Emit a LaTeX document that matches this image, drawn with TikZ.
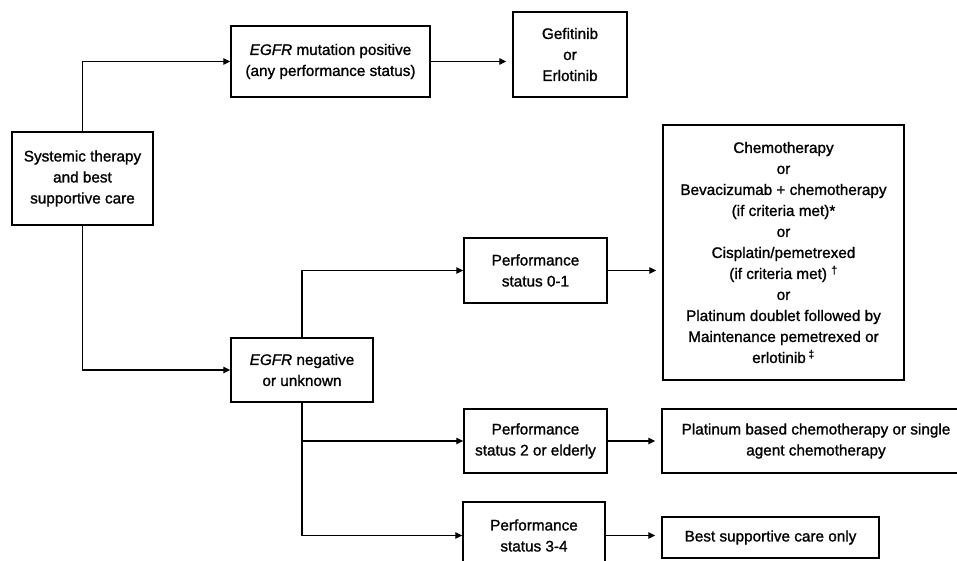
\documentclass[tikz,border=0pt]{standalone}
\usepackage{fontspec}
\setmainfont[FakeBold=1.2]{Liberation Sans}
\usetikzlibrary{arrows.meta}
\begin{document}
\begin{tikzpicture}[x=1pt,y=-1pt,
  box/.style={draw, line width=1.5pt, inner sep=0pt, align=center,
    font=\fontsize{15.3}{21}\selectfont},
  conn/.style={line width=1.2pt, -{Triangle[length=7pt,width=6.5pt]}},
  gap/.style={shorten >=6pt}]
\useasboundingbox (0,0) rectangle (957,561);
\clip (0,0) rectangle (957,561);
\fill[white] (0,0) rectangle (957,561);
% boxes
\node[box, minimum width=141pt, minimum height=93pt] (sys) at (82.5,178.5)
  {Systemic therapy\\and best\\supportive care};
\node[box, minimum width=199pt, minimum height=71pt] (pos) at (330.5,61.5)
  {\textit{EGFR} mutation positive\\(any performance status)};
\node[box, minimum width=114pt, minimum height=85pt] (gef) at (570,54.5)
  {Gefitinib\\or\\Erlotinib};
\node[box, minimum width=142pt, minimum height=64pt] (neg) at (302,370)
  {\textit{EGFR} negative\\or unknown};
\node[box, minimum width=143pt, minimum height=65pt] (ps01) at (535.5,270.5)
  {Performance\\status 0-1};
\node[box, minimum width=143pt, minimum height=64pt] (ps2) at (535.5,441)
  {Performance\\status 2 or elderly};
\node[box, minimum width=142pt, minimum height=67pt] (ps34) at (534,535.5)
  {Performance\\status 3-4};
\node[box, minimum width=241pt, minimum height=255pt] (chemo) at (783.5,252.5)
  {Chemotherapy\\or\\Bevacizumab + chemotherapy\\(if criteria met)*\\or\\Cisplatin/pemetrexed\\(if criteria met) \textsuperscript{†}\\or\\Platinum doublet followed by\\Maintenance pemetrexed or\\erlotinib\,\textsuperscript{‡}};
\node[box, minimum width=308pt, minimum height=64pt] (plat) at (816,441)
  {Platinum based chemotherapy or single\\agent chemotherapy};
\node[box, minimum width=217pt, minimum height=41pt] (bsc) at (770.5,537.5)
  {Best supportive care only};
% connectors
\draw[conn] (sys.north) |- (pos.west);
\draw[conn] (sys.south) |- (neg.west);
\draw[conn, gap] (pos.east) -- (pos.east -| gef.west);
\draw[conn] (neg.north) |- (ps01.west);
\draw[conn] (neg.south) |- (ps2.west);
\draw[conn] (neg.south) |- (ps34.west);
\draw[conn, gap] (ps01.east) -- (ps01.east -| chemo.west);
\draw[conn, gap] (ps2.east) -- (plat.west);
\draw[conn, gap] (ps34.east) -- (ps34.east -| bsc.west);
\end{tikzpicture}
\end{document}
